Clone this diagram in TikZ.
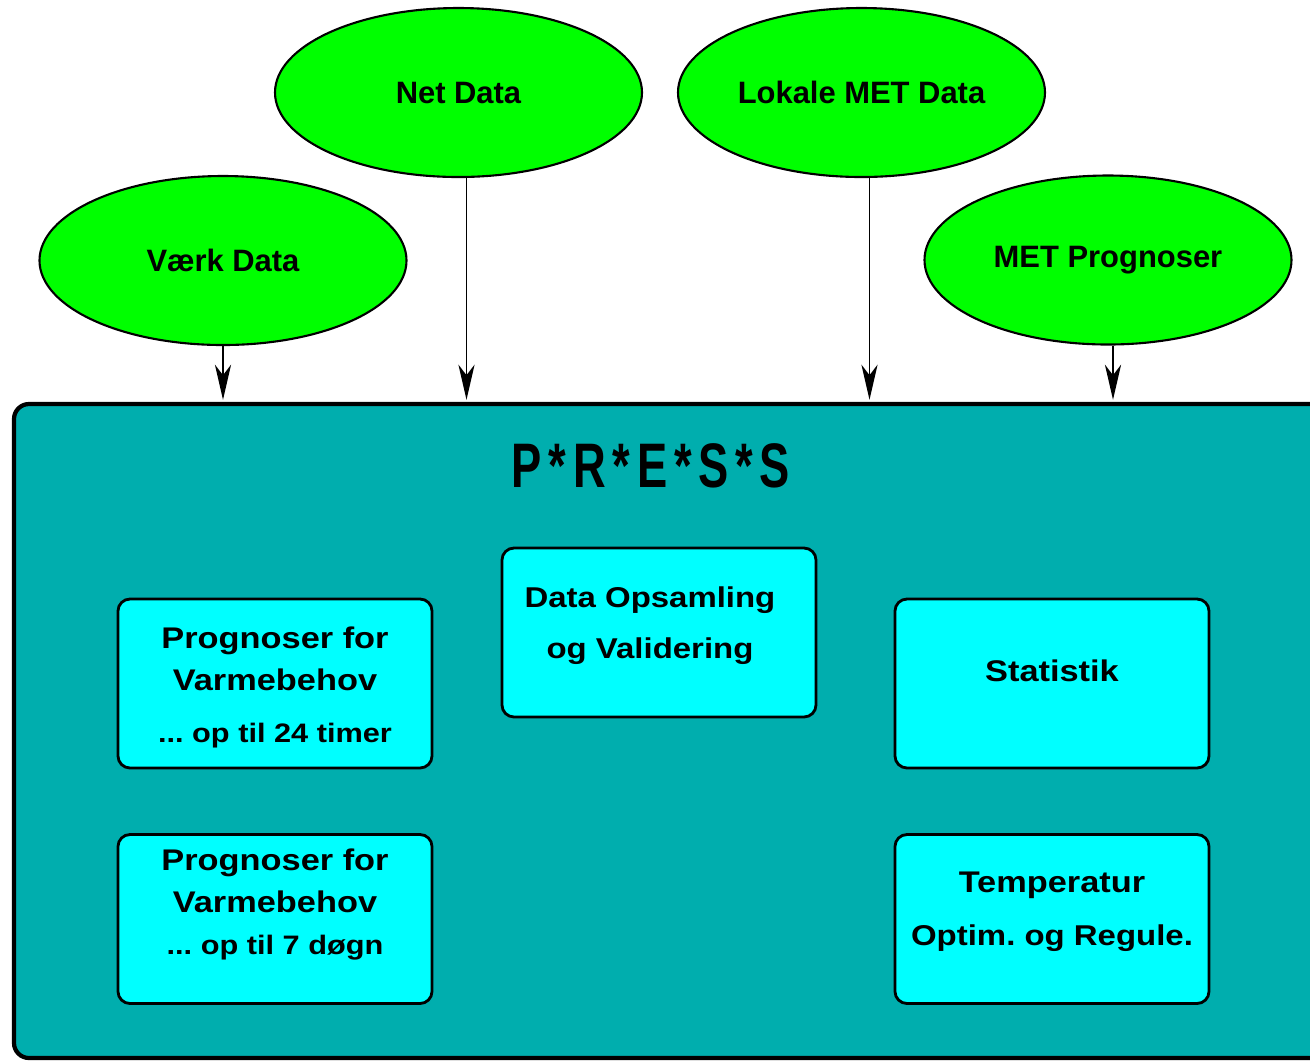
\documentclass[tikz,border=0pt]{standalone}
\usepackage{fontspec}
\setmainfont{Liberation Sans}
\newfontfamily\kassefont[FakeStretch = 1.15]{Liberation Sans}
\newfontfamily\titelfont[LetterSpace = 15]{Liberation Sans}
\usetikzlibrary{shapes.geometric, arrows.meta}
\frenchspacing

\definecolor{kildegroen}{RGB}{0,255,0}
\definecolor{modulcyan}{RGB}{0,255,255}
\definecolor{rammeteal}{RGB}{0,174,174}

\begin{document}
\begin{tikzpicture}
		\tikzstyle{kilde} = [ellipse, draw = black, fill = kildegroen, line width = 0.6pt, minimum width = 3.67cm, minimum height = 1.69cm, inner sep = 0pt, font = \fontsize{8.8}{10}\selectfont\bfseries]
		\tikzstyle{ramme} = [rectangle, draw = black, fill = rammeteal, line width = 1.2pt, rounded corners = 1.5mm, minimum width = 13.16cm, minimum height = 6.54cm, inner sep = 0pt]
		\tikzstyle{modul} = [rectangle, draw = black, fill = modulcyan, line width = 0.8pt, rounded corners = 1.2mm, minimum width = 3.14cm, minimum height = 1.69cm, inner sep = 0pt]
		\tikzstyle{modultekst} = [align = center, inner sep = 0pt, font = \kassefont\fontsize{8.5}{12}\selectfont\bfseries]
		\tikzstyle{pil} = [-{Stealth[length = 10pt, width = 4.6pt, inset = 3pt]}, line width = 0.55pt, shorten > = 0.6pt]

\useasboundingbox (0,0) rectangle (13.1,-10.61);

% Kilder
\node[kilde] (netdata) at (4.585,-0.925) {Net Data};
\node[kilde] (lokale) at (8.615,-0.925) {Lokale MET Data};
\node[kilde] (vaerk) at (2.23,-2.605) {Værk Data};
\node[kilde] (metprog) at (11.08,-2.6) {MET Prognoser};

% Ramme
\node[ramme] (press) at (6.72,-7.31) {};
\node[inner sep = 0pt] (titel) at (6.51,-4.655)
	{\scalebox{0.72}[1]{\titelfont\fontsize{17.9}{20}\selectfont\bfseries P*R*E*S*S}};

% Pile
\draw[pil] (vaerk.south) -- (vaerk.south |- press.north);
\draw[pil] ([xshift = 0.08cm] netdata.south) -- ([xshift = 0.08cm] netdata.south |- press.north);
\draw[pil] ([xshift = 0.08cm] lokale.south) -- ([xshift = 0.08cm] lokale.south |- press.north);
\draw[pil] ([xshift = 0.05cm] metprog.south) -- ([xshift = 0.05cm] metprog.south |- press.north);

% Moduler
\node[modul] (prog24) at (2.75,-6.835) {};
\node[modul] (prog7) at (2.75,-9.19) {};
\node[modul] (data) at (6.59,-6.325) {};
\node[modul] (statistik) at (10.52,-6.835) {};
\node[modul] (temp) at (10.52,-9.19) {};

% Tekster
\node[modultekst] (prog24-tekst) at ([yshift = -0.04cm] prog24.center)
	{Prognoser for\\ Varmebehov\\[2.8pt] {\fontsize{7.6}{9}\selectfont ... op til 24 timer}};
\node[modultekst] (prog7-tekst) at ([yshift = 0.145cm] prog7.center)
	{Prognoser for\\ Varmebehov\\ {\fontsize{7.6}{9}\selectfont ... op til 7 døgn}};
\node[modultekst, font = \kassefont\fontsize{8.15}{14.5}\selectfont\bfseries] (data-tekst) at ([xshift = -0.09cm, yshift = 0.07cm] data.center)
	{Data Opsamling\\ og Validering};
\node[modultekst] (statistik-tekst) at ([yshift = 0.13cm] statistik.center) {Statistik};
\node[modultekst, font = \kassefont\fontsize{8.5}{15}\selectfont\bfseries] (temp-tekst) at ([yshift = 0.075cm] temp.center)
	{Temperatur\\ {\fontsize{8.15}{10}\selectfont Optim. og Regule.}};

	\end{tikzpicture}
\end{document}
